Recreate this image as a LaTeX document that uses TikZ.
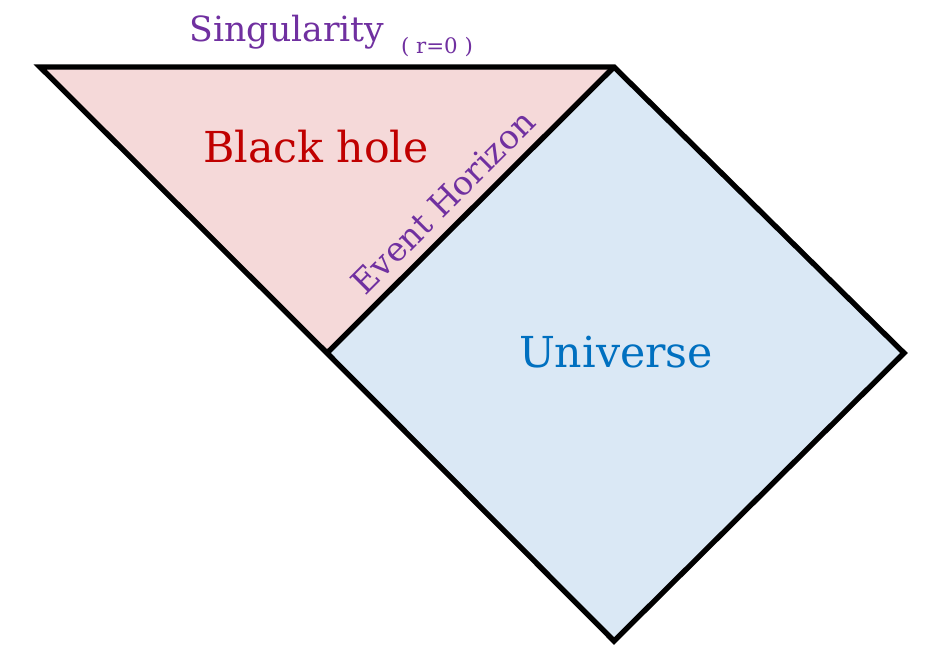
\documentclass[tikz,border=0pt]{standalone}
\usepackage{fontspec}
\setmainfont{DejaVu Serif}
\definecolor{pur}{HTML}{7030A0}
\definecolor{red2}{HTML}{C00000}
\definecolor{blu}{HTML}{0070C0}
\definecolor{pinkf}{HTML}{F5D9D9}
\definecolor{bluef}{HTML}{DAE8F5}
\begin{document}
\begin{tikzpicture}[x=0.75pt,y=-0.75pt,edge/.style={line width=4pt,line join=miter}]
\useasboundingbox (0,0) rectangle (937,667);
\coordinate (tl) at (40,67);
\coordinate (tr) at (614,67);
\coordinate (m) at (327,353);
\coordinate (r) at (904,353);
\coordinate (b) at (614,641);
\fill[pinkf] (tl)--(tr)--(m)--cycle;
\fill[bluef] (tr)--(r)--(b)--(m)--cycle;
\draw[edge] (tl)--(tr)--(r)--(b)--(m)--cycle;
\draw[edge] (tr)--(m);
\node[text=pur,font=\fontsize{26}{30}\selectfont] (s) at (287,32) {Singularity};
\node[text=pur,font=\fontsize{16}{19}\selectfont] (r0) at (437,47) {( r=0 )};
\node[text=red2,font=\fontsize{32}{38}\selectfont] (bh) at (316,147) {Black hole};
\node[text=blu,font=\fontsize{32}{38}\selectfont] (u) at (616,352) {Universe};
\node[text=pur,font=\fontsize{25}{30}\selectfont,rotate=45] (eh) at (443,202) {Event Horizon};
\end{tikzpicture}
\end{document}
